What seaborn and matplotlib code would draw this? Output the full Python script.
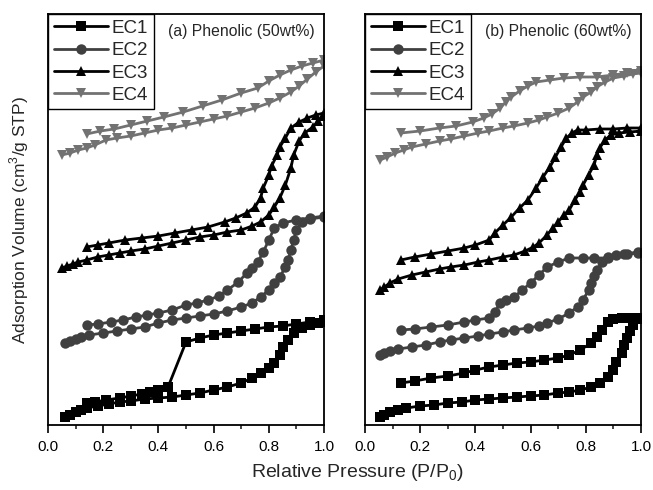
import numpy as np
import pandas as pd
import seaborn as sns
import matplotlib.pyplot as plt

# N2 isotherms, adsorption branch then desorption branch (arbitrary stacked units)
SAMPLES = ["EC1", "EC2", "EC3", "EC4"]
COLORS = {"EC1": "#000000", "EC2": "#404040", "EC3": "#000000", "EC4": "#727272"}
MARKERS = {"EC1": "s", "EC2": "o", "EC3": "^", "EC4": "v"}

# ---------- panel (a) Phenolic 50wt% ----------
a_ec1_ads_x = [0.06, 0.08, 0.10, 0.12, 0.14, 0.18, 0.22, 0.26, 0.30, 0.35, 0.40, 0.45, 0.50, 0.55, 0.60,
               0.65, 0.70, 0.74, 0.77, 0.80, 0.82, 0.84, 0.85, 0.87, 0.89, 0.92, 0.95, 0.98, 1.00]
a_ec1_ads_y = [8, 10, 13, 15, 17, 19, 21, 23, 24, 26, 27, 28, 30, 32, 35,
               38, 42, 47, 52, 57, 62, 70, 78, 85, 92, 97, 100, 102, 103]
a_ec1_des_x = [1.00, 0.95, 0.90, 0.85, 0.80, 0.75, 0.70, 0.65, 0.60, 0.55, 0.50, 0.435, 0.40, 0.37,
               0.34, 0.30, 0.26, 0.21, 0.17, 0.14]
a_ec1_des_y = [105, 103, 101, 99, 98, 96, 94, 92, 90, 87, 83, 38, 35, 33, 31, 29, 27, 25, 23, 22]

a_ec2_ads_x = [0.06, 0.08, 0.10, 0.12, 0.15, 0.20, 0.25, 0.30, 0.35, 0.40, 0.45, 0.50, 0.55, 0.60, 0.65,
               0.70, 0.74, 0.77, 0.80, 0.82, 0.84, 0.86, 0.87, 0.88, 0.89, 0.90, 0.92, 0.95, 1.00]
a_ec2_ads_y = [82, 84, 86, 88, 90, 92, 94, 96, 98, 102, 105, 107, 109, 111, 114,
               118, 122, 128, 135, 142, 148, 158, 165, 175, 185, 195, 203, 206, 208]
a_ec2_des_x = [1.00, 0.95, 0.90, 0.85, 0.82, 0.80, 0.78, 0.76, 0.74, 0.72, 0.69, 0.65, 0.62, 0.58,
               0.54, 0.50, 0.45, 0.40, 0.36, 0.32, 0.27, 0.23, 0.18, 0.14]
a_ec2_des_y = [209, 207, 205, 202, 197, 185, 173, 163, 157, 152, 143, 135, 129, 125,
               122, 120, 115, 112, 110, 108, 105, 103, 101, 100]

a_ec3_ads_x = [0.05, 0.07, 0.09, 0.11, 0.14, 0.18, 0.22, 0.26, 0.30, 0.35, 0.40, 0.45, 0.50, 0.55, 0.60,
               0.65, 0.70, 0.74, 0.77, 0.80, 0.82, 0.84, 0.86, 0.88, 0.89, 0.91, 0.93, 0.96, 0.98, 1.00]
a_ec3_ads_y = [157, 159, 161, 163, 165, 168, 170, 172, 174, 176, 179, 182, 185, 188, 190,
               193, 195, 199, 203, 210, 218, 227, 240, 257, 270, 284, 292, 298, 304, 309]
a_ec3_des_x = [1.00, 0.97, 0.94, 0.91, 0.88, 0.86, 0.84, 0.83, 0.81, 0.80, 0.78, 0.77, 0.75, 0.72,
               0.68, 0.64, 0.58, 0.52, 0.46, 0.40, 0.34, 0.28, 0.22, 0.18, 0.14]
a_ec3_des_y = [312, 310, 307, 303, 297, 287, 278, 270, 259, 250, 237, 227, 218, 212,
               207, 203, 198, 195, 192, 189, 187, 185, 182, 180, 178]

a_ec4_ads_x = [0.05, 0.08, 0.11, 0.14, 0.17, 0.21, 0.25, 0.30, 0.35, 0.40, 0.45, 0.50, 0.55, 0.60,
               0.65, 0.70, 0.75, 0.80, 0.84, 0.88, 0.91, 0.94, 0.97, 1.00]
a_ec4_ads_y = [270, 272, 275, 277, 280, 285, 287, 289, 292, 295, 297, 300, 303, 306,
               309, 313, 317, 322, 327, 333, 339, 346, 353, 359]
a_ec4_des_x = [1.00, 0.96, 0.92, 0.88, 0.84, 0.80, 0.76, 0.70, 0.63, 0.56, 0.49, 0.42, 0.36, 0.30,
               0.24, 0.19, 0.14]
a_ec4_des_y = [365, 362, 359, 355, 350, 344, 337, 332, 325, 319, 313, 308, 304, 300, 296, 294, 291]

# ---------- panel (b) Phenolic 60wt% ----------
b_ec1_ads_x = [0.055, 0.07, 0.09, 0.12, 0.15, 0.20, 0.25, 0.30, 0.35, 0.40, 0.45, 0.50, 0.55, 0.60,
               0.65, 0.70, 0.74, 0.78, 0.82, 0.85, 0.88, 0.90, 0.91, 0.93, 0.94, 0.95, 0.96, 0.97, 0.99]
b_ec1_ads_y = [8, 10, 13, 15, 17, 19, 20, 22, 23, 25, 26, 27, 28, 29,
               30, 32, 33, 35, 38, 42, 48, 55, 63, 72, 80, 87, 94, 100, 106]
b_ec1_des_x = [0.99, 0.96, 0.93, 0.90, 0.88, 0.86, 0.84, 0.82, 0.78, 0.74, 0.70, 0.65, 0.60, 0.55,
               0.50, 0.45, 0.40, 0.36, 0.30, 0.24, 0.18, 0.13]
b_ec1_des_y = [107, 107, 107, 106, 103, 95, 88, 82, 75, 70, 67, 65, 63, 62,
               60, 58, 55, 52, 49, 47, 44, 42]

b_ec2_ads_x = [0.055, 0.07, 0.09, 0.12, 0.17, 0.22, 0.27, 0.31, 0.36, 0.41, 0.45, 0.50, 0.54, 0.59,
               0.63, 0.66, 0.70, 0.74, 0.77, 0.79, 0.81, 0.82, 0.83, 0.84, 0.86, 0.88, 0.91, 0.95, 0.99]
b_ec2_ads_y = [70, 72, 74, 76, 78, 80, 83, 85, 87, 89, 91, 93, 95, 97,
               99, 102, 106, 112, 118, 125, 135, 142, 149, 155, 163, 168, 170, 171, 172]
b_ec2_des_x = [0.99, 0.94, 0.88, 0.83, 0.79, 0.74, 0.70, 0.66, 0.63, 0.60, 0.57, 0.54, 0.51, 0.49,
               0.47, 0.45, 0.40, 0.36, 0.30, 0.24, 0.18, 0.13]
b_ec2_des_y = [173, 171, 167, 167, 167, 167, 163, 158, 150, 142, 135, 128, 125, 122,
               113, 107, 105, 103, 100, 98, 96, 95]

b_ec3_ads_x = [0.055, 0.07, 0.09, 0.12, 0.17, 0.22, 0.27, 0.31, 0.36, 0.41, 0.45, 0.50, 0.54, 0.58,
               0.61, 0.63, 0.66, 0.68, 0.70, 0.72, 0.74, 0.76, 0.78, 0.79, 0.81, 0.83, 0.84, 0.85,
               0.87, 0.89, 0.92, 0.96, 1.00]
b_ec3_ads_y = [135, 138, 142, 146, 150, 153, 156, 158, 160, 163, 165, 168, 170, 174,
               178, 182, 190, 197, 203, 210, 215, 225, 233, 240, 250, 260, 270, 277,
               285, 290, 292, 293, 294]
b_ec3_des_x = [1.00, 0.95, 0.90, 0.85, 0.80, 0.77, 0.75, 0.73, 0.71, 0.69, 0.67, 0.645, 0.62, 0.59,
               0.56, 0.53, 0.50, 0.47, 0.45, 0.40, 0.36, 0.30, 0.24, 0.18, 0.13]
b_ec3_des_y = [297, 297, 296, 296, 295, 295, 292, 287, 278, 268, 258, 248, 237, 225,
               217, 208, 200, 192, 185, 180, 177, 174, 171, 168, 165]

b_ec4_ads_x = [0.055, 0.08, 0.11, 0.14, 0.17, 0.22, 0.27, 0.31, 0.36, 0.41, 0.45, 0.50, 0.54, 0.59,
               0.63, 0.66, 0.70, 0.74, 0.77, 0.79, 0.82, 0.84, 0.87, 0.90, 0.94, 0.97, 1.00]
b_ec4_ads_y = [265, 268, 272, 275, 278, 281, 284, 286, 289, 292, 294, 297, 299, 302,
               305, 308, 312, 317, 323, 328, 333, 338, 343, 347, 349, 351, 352]
b_ec4_des_x = [1.00, 0.95, 0.90, 0.84, 0.78, 0.72, 0.67, 0.62, 0.59, 0.56, 0.53, 0.51, 0.49, 0.46,
               0.43, 0.39, 0.33, 0.27, 0.20, 0.13]
b_ec4_des_y = [354, 352, 350, 348, 348, 347, 345, 343, 339, 334, 328, 323, 317, 311,
               307, 303, 299, 297, 294, 292]

PANELS = {
    "(a) Phenolic (50wt%)": {
        "EC1": (a_ec1_ads_x + a_ec1_des_x, a_ec1_ads_y + a_ec1_des_y),
        "EC2": (a_ec2_ads_x + a_ec2_des_x, a_ec2_ads_y + a_ec2_des_y),
        "EC3": (a_ec3_ads_x + a_ec3_des_x, a_ec3_ads_y + a_ec3_des_y),
        "EC4": (a_ec4_ads_x + a_ec4_des_x, a_ec4_ads_y + a_ec4_des_y),
    },
    "(b) Phenolic (60wt%)": {
        "EC1": (b_ec1_ads_x + b_ec1_des_x, b_ec1_ads_y + b_ec1_des_y),
        "EC2": (b_ec2_ads_x + b_ec2_des_x, b_ec2_ads_y + b_ec2_des_y),
        "EC3": (b_ec3_ads_x + b_ec3_des_x, b_ec3_ads_y + b_ec3_des_y),
        "EC4": (b_ec4_ads_x + b_ec4_des_x, b_ec4_ads_y + b_ec4_des_y),
    },
}

sns.set_style("ticks")
plt.rcParams["font.family"] = ["Liberation Sans", "DejaVu Sans"]
plt.rcParams["mathtext.fontset"] = "custom"
plt.rcParams["mathtext.rm"] = "Liberation Sans"

fig = plt.figure(figsize=(6.53, 4.90), dpi=100)
W, H = 653, 490
axes = [
    fig.add_axes([48 / W, (H - 425) / H, 276 / W, 411 / H]),
    fig.add_axes([365 / W, (H - 425) / H, 276 / W, 411 / H]),
]

for ax, (title, data) in zip(axes, PANELS.items()):
    for name in SAMPLES:
        xs, ys = data[name]
        df = pd.DataFrame({"p": xs, "v": ys})
        sns.lineplot(data=df, x="p", y="v", sort=False, ax=ax, color=COLORS[name],
                     marker=MARKERS[name], markersize=7.5, markeredgewidth=0,
                     linewidth=2.0, label=name, estimator=None)
    ax.set_xlim(0, 1.0)
    ax.set_ylim(0, 411)
    ax.set_xticks(np.arange(0, 1.01, 0.2))
    ax.set_xticks(np.arange(0.1, 1.0, 0.2), minor=True)
    ax.set_xticklabels([f"{t:.1f}" for t in np.arange(0, 1.01, 0.2)])
    ax.set_yticks([])
    ax.set_xlabel("")
    ax.set_ylabel("")
    ax.tick_params(axis="x", which="major", direction="out", length=6, width=1.2,
                   labelsize=11, colors="black", pad=5)
    ax.tick_params(axis="x", which="minor", direction="out", length=3, width=1.2)
    for sp in ax.spines.values():
        sp.set_visible(True)
        sp.set_linewidth(1.3)
        sp.set_color("black")
    ax.text(0.965, 0.975, title, transform=ax.transAxes, ha="right", va="top", fontsize=11.3)
    leg = ax.legend(loc="upper left", fontsize=13.5, handlelength=2.9, labelspacing=0.28,
                    borderpad=0.3, handletextpad=0.2, borderaxespad=0.0, frameon=True,
                    fancybox=False, markerscale=1.0)
    leg.get_frame().set_edgecolor("black")
    leg.get_frame().set_linewidth(1.0)
    leg.get_frame().set_alpha(1)

fig.text(357 / W, 1 - 472 / H, "Relative Pressure (P/P$_0$)", ha="center", va="center", fontsize=14)
fig.text(19 / W, 1 - 220 / H, "Adsorption Volume (cm$^3$/g STP)", ha="center", va="center",
         rotation=90, fontsize=12.5)

fig.savefig("out.png", dpi=100)
